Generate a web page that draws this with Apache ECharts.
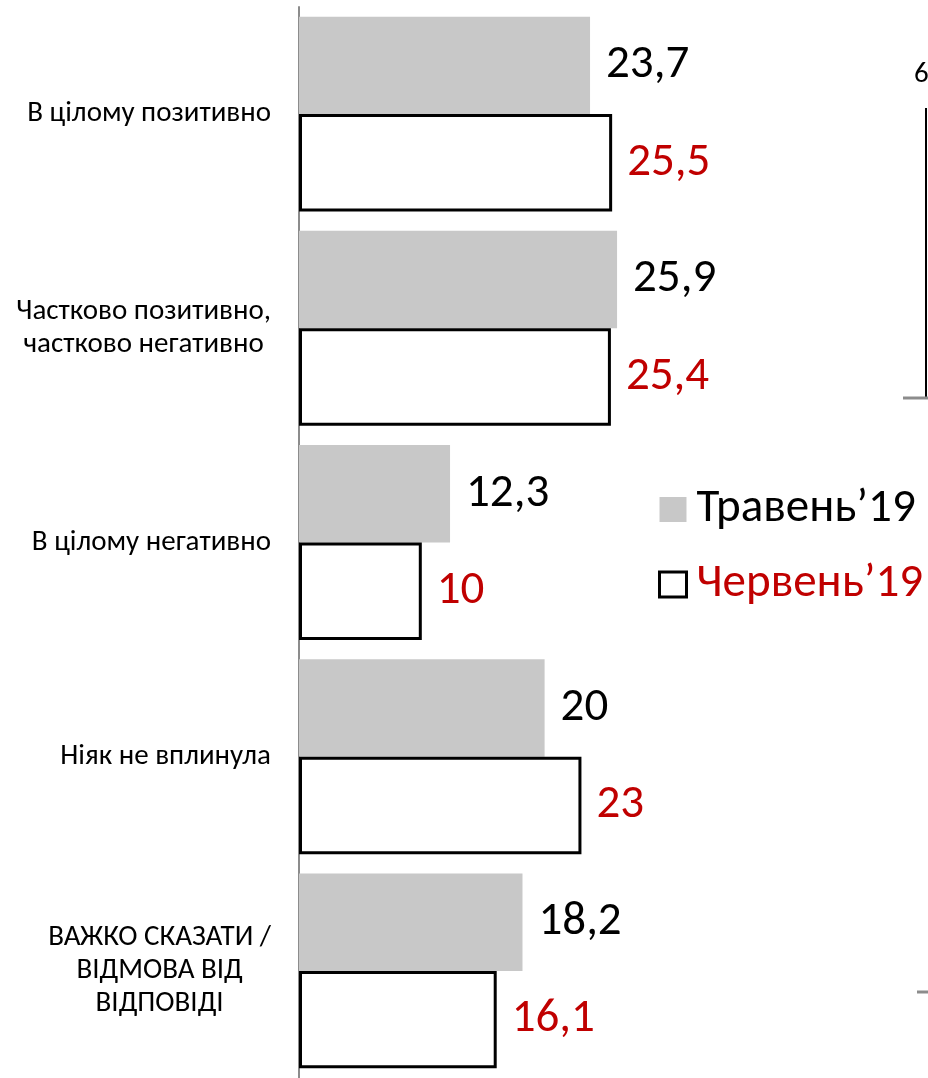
<!DOCTYPE html>
<html>
<head>
<meta charset="utf-8">
<script src="https://cdn.jsdelivr.net/npm/echarts@6/dist/echarts.min.js"></script>
<style>
  html, body { margin: 0; padding: 0; background: #fff; }
  #chart { width: 928px; height: 1078px; }
</style>
</head>
<body>
<div id="chart"></div>
<script>
const categories = [
  'В цілому позитивно',
  'Частково позитивно,\nчастково негативно',
  'В цілому негативно',
  'Ніяк не вплинула',
  'ВАЖКО СКАЗАТИ /\nВІДМОВА ВІД\nВІДПОВІДІ'
]
const seriesNames = ['Травень’19', 'Червень’19']
const mayValues = [23.7, 25.9, 12.3, 20, 18.2]
const juneValues = [25.5, 25.4, 10, 23, 16.1]

const FONT = 'Carlito, "Open Sans", sans-serif'
const RED = '#c00000'

const fmt = p => String(p.value).replace('.', ',')

const chart = echarts.init(document.getElementById('chart'))
chart.setOption({
  animation: false,
  textStyle: { fontFamily: FONT },
  grid: { left: 299, right: 15, top: 7, bottom: 0, containLabel: false },
  legend: {
    orient: 'vertical',
    left: 653,
    top: 481,
    itemGap: 28,
    itemWidth: 27,
    itemHeight: 25,
    icon: 'rect',
    textStyle: { fontSize: 47, fontFamily: FONT, padding: [0, 0, 0, 5] },
    data: [
      { name: seriesNames[0], itemStyle: { color: '#c8c8c8', borderWidth: 0 }, textStyle: { color: '#000' } },
      { name: seriesNames[1], itemStyle: { color: '#fff', borderColor: '#000', borderWidth: 3 }, textStyle: { color: RED } }
    ]
  },
  xAxis: {
    type: 'value',
    min: 0,
    max: 50,
    show: false,
    splitLine: { show: false }
  },
  yAxis: {
    type: 'category',
    inverse: true,
    data: categories,
    axisLine: { lineStyle: { color: '#8c8c8c', width: 2 } },
    axisTick: { length: 8, lineStyle: { color: '#8c8c8c', width: 2 } },
    axisLabel: {
      margin: 28,
      fontSize: 29,
      color: '#000',
      align: 'right',
      formatter: v => v.split('\n').map(s => '{c|' + s + '}').join('\n'),
      rich: { c: { align: 'center', fontSize: 29, lineHeight: 33, fontFamily: FONT, color: '#000' } }
    }
  },
  series: [
    {
      name: seriesNames[0],
      type: 'bar',
      data: mayValues,
      barGap: '0%',
      barCategoryGap: '9%',
      itemStyle: { color: '#c8c8c8' },
      label: { show: true, position: 'right', distance: 16, fontSize: 47, color: '#000', formatter: fmt }
    },
    {
      name: seriesNames[1],
      type: 'bar',
      data: juneValues,
      barGap: '0%',
      barCategoryGap: '9%',
      itemStyle: { color: '#fff', borderColor: '#000', borderWidth: 3 },
      label: { show: true, position: 'right', distance: 15, fontSize: 47, color: RED, formatter: fmt }
    }
  ],
  // fragments of the neighbouring chart that were cut by the crop
  graphic: [
    { type: 'text', left: 914, top: 60, style: { text: '6', fontSize: 29, fontFamily: FONT, fill: '#000' } },
    { type: 'line', shape: { x1: 926, y1: 108, x2: 926, y2: 398 }, style: { stroke: '#000', lineWidth: 2 } },
    { type: 'line', shape: { x1: 903, y1: 398, x2: 928, y2: 398 }, style: { stroke: '#8c8c8c', lineWidth: 3 } },
    { type: 'line', shape: { x1: 917, y1: 992, x2: 928, y2: 992 }, style: { stroke: '#8c8c8c', lineWidth: 3 } }
  ]
})
</script>
</body>
</html>
